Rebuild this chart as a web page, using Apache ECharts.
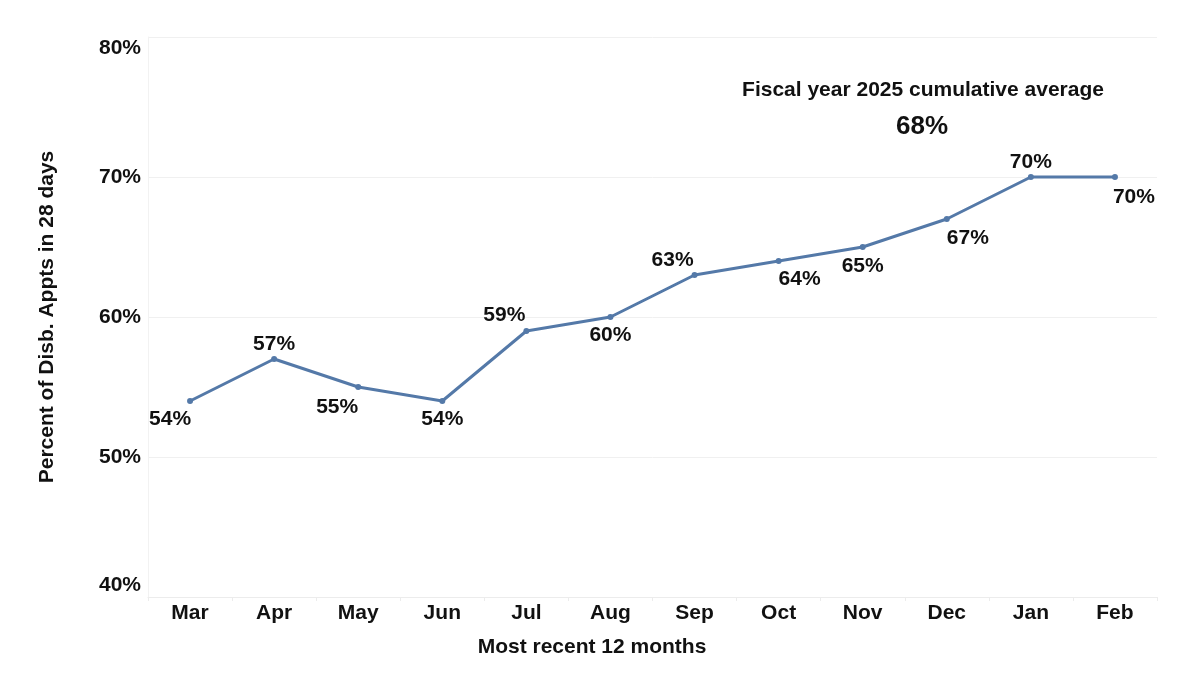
<!DOCTYPE html>
<html><head><meta charset="utf-8">
<script src="https://cdn.jsdelivr.net/npm/echarts@6/dist/echarts.min.js"></script>
<style>html,body{margin:0;padding:0;background:#fff}#c{width:1202px;height:676px}</style>
</head><body><div id="c"></div>
<script>
const months = ['Mar','Apr','May','Jun','Jul','Aug','Sep','Oct','Nov','Dec','Jan','Feb'];
const percentValues = [54,57,55,54,59,60,63,64,65,67,70,70];
const yTicks = [40,50,60,70,80];
const annotationTitle = 'Fiscal year 2025 cumulative average';
const annotationValue = '68%';
// label placement (style only): [dx, dy]
const labelOffsets = [[-20,18],[0,-15],[-21,20],[0,18],[-22,-16],[0,18],[-22,-15],[21,18],[0,19],[21,19],[0,-15],[19,20]];

const FONT = 'Liberation Sans, Arial, sans-serif';
const lbl = {color:'#111',fontWeight:'bold',fontSize:21,fontFamily:FONT};
const chart = echarts.init(document.getElementById('c'));
chart.setOption({
  animation:false,
  grid:{left:148,right:45,top:37,bottom:79},
  xAxis:{type:'category',data:months,boundaryGap:true,
    axisLine:{lineStyle:{color:'#ececec'}},
    axisTick:{show:true,lineStyle:{color:'#ececec'},length:4},
    axisLabel:Object.assign({margin:6},lbl)
  },
  yAxis:{type:'value',min:yTicks[0],max:yTicks[yTicks.length-1],interval:10,
    name:'Percent of Disb. Appts in 28 days',nameLocation:'middle',nameGap:90,
    nameTextStyle:lbl,
    axisLine:{show:true,lineStyle:{color:'#f2f2f2'}},axisTick:{show:false},
    splitLine:{lineStyle:{color:'#f0f0f0'}},
    axisLabel:Object.assign({margin:7,
      formatter:v=>v===yTicks[yTicks.length-1]?'{t|'+v+'%}':(v===yTicks[0]?'{b|'+v+'%}':v+'%'),
      rich:{t:Object.assign({padding:[23,0,0,0]},lbl),b:Object.assign({padding:[0,0,23,0]},lbl)}
    },lbl)
  },
  graphic:[
    {type:'text',style:{text:'Most recent 12 months',x:592,y:647,align:'center',verticalAlign:'middle',fill:'#111',font:'bold 21px '+FONT}},
    {type:'text',style:{text:annotationTitle,x:923,y:90,align:'center',verticalAlign:'middle',fill:'#111',font:'bold 21px '+FONT}},
    {type:'text',style:{text:annotationValue,x:922,y:127,align:'center',verticalAlign:'middle',fill:'#111',font:'bold 26px '+FONT}}
  ],
  series:[{type:'line',
    data:percentValues.map((v,i)=>({value:v,label:{offset:labelOffsets[i]}})),
    lineStyle:{color:'#5479a8',width:3},
    itemStyle:{color:'#5479a8'},
    symbol:'circle',symbolSize:6,
    label:Object.assign({show:true,position:'inside',formatter:p=>p.value+'%'},lbl)
  }]
});
</script></body></html>
